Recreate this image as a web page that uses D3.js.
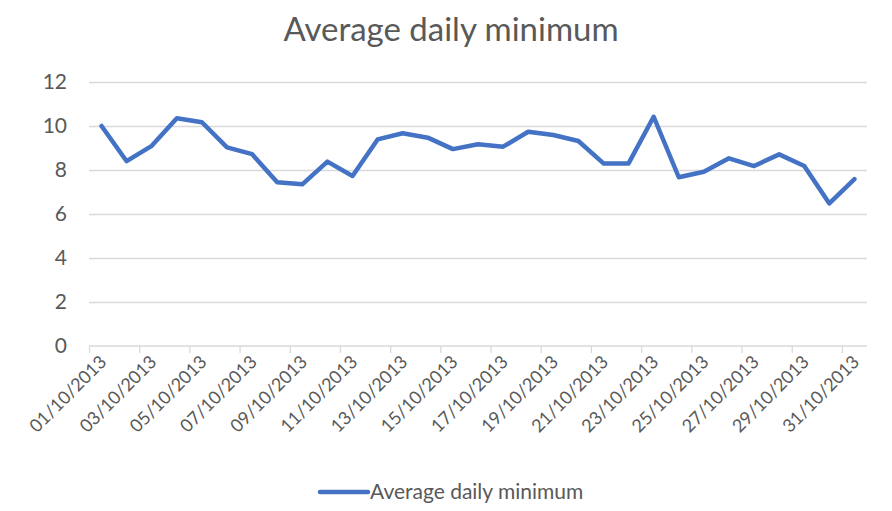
<!DOCTYPE html>
<html>
<head>
<meta charset="utf-8">
<script src="https://cdn.jsdelivr.net/npm/d3@7"></script>
<style>
  body { margin: 0; background: #fff; }
  text { font-family: Lato, "Open Sans", sans-serif; fill: #595959; }
</style>
</head>
<body>
<svg id="chart" width="892" height="511"></svg>
<script>
const dates = d3.range(1, 32).map((d) => `${String(d).padStart(2, '0')}/10/2013`)
const minTemps = [
  10.0, 8.4, 9.1, 10.35, 10.17, 9.03, 8.72, 7.44, 7.35, 8.38, 7.73,
  9.39, 9.67, 9.47, 8.95, 9.17, 9.06, 9.74, 9.59, 9.32, 8.3,
  8.3, 10.42, 7.67, 7.92, 8.53, 8.18, 8.71, 8.18, 6.48, 7.59,
]
const yTicks = [0, 2, 4, 6, 8, 10, 12]
const seriesName = 'Average daily minimum'

const svg = d3.select('#chart')
const plotLeft = 89
const plotRight = 867
const plotTop = 82
const plotBottom = 346

const x = d3.scaleBand().domain(dates).range([plotLeft, plotRight]).padding(0)
const xEdge = d3.scaleLinear().domain([0, dates.length]).range([plotLeft, plotRight])
const y = d3.scaleLinear().domain([0, 12]).range([plotBottom, plotTop])

// title
svg.append('text')
  .attr('x', 451)
  .attr('y', 41)
  .attr('text-anchor', 'middle')
  .style('font-size', '33px')
  .text(seriesName)

// gridlines + y labels
const yAxis = svg.append('g')
  .attr('transform', `translate(${plotLeft},0)`)
  .call(d3.axisLeft(y).tickValues(yTicks).tickSize(-(plotRight - plotLeft)).tickPadding(22))
yAxis.select('.domain').remove()
yAxis.selectAll('.tick line').attr('stroke', '#d9d9d9').attr('stroke-width', 1.3)
yAxis.selectAll('.tick text')
  .style('font-size', '21px')
  .style('font-family', 'Lato, sans-serif')
  .attr('fill', '#595959')
yAxis.selectAll('.tick').filter((d) => d === 0).select('line').remove()

// x axis line and boundary ticks
const xTicks = svg.append('g')
  .attr('transform', `translate(0,${plotBottom})`)
  .call(d3.axisBottom(xEdge).tickValues(d3.range(0, 31, 2)).tickSize(7).tickFormat(''))
xTicks.select('.domain').attr('stroke', '#d9d9d9').attr('stroke-width', 1.3)
  .attr('d', `M${plotLeft},0H${plotRight}`)
xTicks.selectAll('.tick line').attr('stroke', '#d9d9d9').attr('stroke-width', 1.3)

// rotated category labels
const labelAxis = svg.append('g')
  .attr('transform', `translate(0,${plotBottom})`)
  .call(d3.axisBottom(x).tickValues(dates.filter((d, i) => i % 2 === 0)).tickSize(0).tickPadding(0))
labelAxis.select('.domain').remove()
labelAxis.selectAll('.tick text')
  .attr('text-anchor', 'end')
  .attr('dy', 0)
  .attr('transform', 'translate(6,17) rotate(-45)')
  .style('font-size', '18px')
  .style('font-family', 'Lato, sans-serif')
  .attr('fill', '#595959')

// series line
const line = d3.line()
  .x((d, i) => x(dates[i]) + x.bandwidth() / 2)
  .y((d) => y(d))

svg.append('path')
  .datum(minTemps)
  .attr('fill', 'none')
  .attr('stroke', '#4472c4')
  .attr('stroke-width', 4.5)
  .attr('stroke-linejoin', 'round')
  .attr('stroke-linecap', 'round')
  .attr('d', line)

// legend
const legend = svg.append('g').attr('transform', 'translate(318,492)')
legend.append('line')
  .attr('x1', 2).attr('x2', 50)
  .attr('stroke', '#4472c4')
  .attr('stroke-width', 4.5)
  .attr('stroke-linecap', 'round')
legend.append('text')
  .attr('x', 52)
  .attr('y', 7)
  .style('font-size', '21px')
  .text(seriesName)
</script>
</body>
</html>
